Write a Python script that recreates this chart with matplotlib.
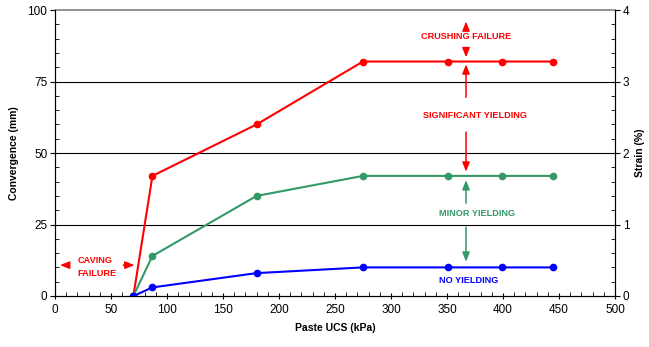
import matplotlib.pyplot as plt
from matplotlib.ticker import MultipleLocator

plt.rcParams['font.family'] = ['Liberation Sans', 'DejaVu Sans']

# paste UCS (kPa) and convergence (mm)
ucs = [70, 87, 180, 275, 351, 399, 445]
crushing = [0, 42, 60, 82, 82, 82, 82]
minor_yield = [0, 14, 35, 42, 42, 42, 42]
no_yield = [0, 3, 8, 10, 10, 10, 10]

RED = '#ff0000'
GREEN = '#339966'
BLUE = '#0000ff'

fig = plt.figure(figsize=(6.49, 3.47), dpi=100)
ax = fig.add_axes([0.0847, 0.147, 0.8629, 0.824])

for y, c in [(crushing, RED), (minor_yield, GREEN), (no_yield, BLUE)]:
    ax.plot(ucs, y, color=c, lw=1.5, marker='o', ms=4.5, zorder=3)

ax.set_xlim(0, 500)
ax.set_ylim(0, 100)
ax.xaxis.set_major_locator(MultipleLocator(50))
ax.xaxis.set_minor_locator(MultipleLocator(10))
ax.yaxis.set_major_locator(MultipleLocator(25))
ax.yaxis.set_minor_locator(MultipleLocator(5))
ax.tick_params(axis='x', which='major', direction='inout', length=5, labelsize=8.5, pad=3)
ax.tick_params(axis='x', which='minor', direction='in', length=3)
ax.tick_params(axis='y', which='major', direction='out', length=3.5, labelsize=8.5, pad=2)
ax.tick_params(axis='y', which='minor', direction='in', length=3)
for v in [25, 50, 75]:
    ax.axhline(v, color='black', lw=0.8, zorder=1)
ax.spines['top'].set_color('#808080')
ax.spines['top'].set_linewidth(1.2)
ax.set_xlabel('Paste UCS (kPa)', fontsize=7.5, fontweight='bold', labelpad=5)
ax.set_ylabel('Convergence (mm)', fontsize=7.5, fontweight='bold', labelpad=6)

ax2 = ax.twinx()
ax2.set_ylim(0, 4)
ax2.yaxis.set_major_locator(MultipleLocator(1))
ax2.yaxis.set_minor_locator(MultipleLocator(0.2))
ax2.tick_params(axis='y', which='major', direction='out', length=3.5, labelsize=8.5, pad=2)
ax2.tick_params(axis='y', which='minor', direction='in', length=3)
ax2.spines['top'].set_visible(False)
ax2.set_ylabel('Strain (%)', fontsize=7.5, fontweight='bold', labelpad=4)

arrow_kw = dict(arrowstyle='-|>,head_width=0.22,head_length=0.55', lw=1.1)
txt_kw = dict(fontsize=6.6, fontweight='bold', ha='center', va='center')

def arrow(x0, y0, x1, y1, c):
    ax.annotate('', xy=(x1, y1), xytext=(x0, y0),
                arrowprops=dict(color=c, **arrow_kw), zorder=4)

ax.text(367, 90.7, 'CRUSHING FAILURE', color=RED, **txt_kw)
arrow(367, 92.3, 367, 97.0, RED)
arrow(367, 87.3, 367, 82.5, RED)

ax.text(375, 63, 'SIGNIFICANT YIELDING', color=RED, **txt_kw)
arrow(367, 68.5, 367, 82.0, RED)
arrow(367, 58.3, 367, 42.5, RED)

ax.text(377, 28.9, 'MINOR YIELDING', color=GREEN, **txt_kw)
arrow(367, 31.5, 367, 41.5, GREEN)
arrow(367, 25.1, 367, 11.0, GREEN)

ax.text(369, 5.4, 'NO YIELDING', color=BLUE, **txt_kw)

ax.text(20, 10, 'CAVING\nFAILURE', color=RED, fontsize=6.6, fontweight='bold',
        ha='left', va='center', linespacing=1.55)
arrow(14.5, 10.8, 2.0, 10.8, RED)
arrow(58.5, 10.8, 73.5, 10.8, RED)

fig.savefig('out.png', dpi=100)
